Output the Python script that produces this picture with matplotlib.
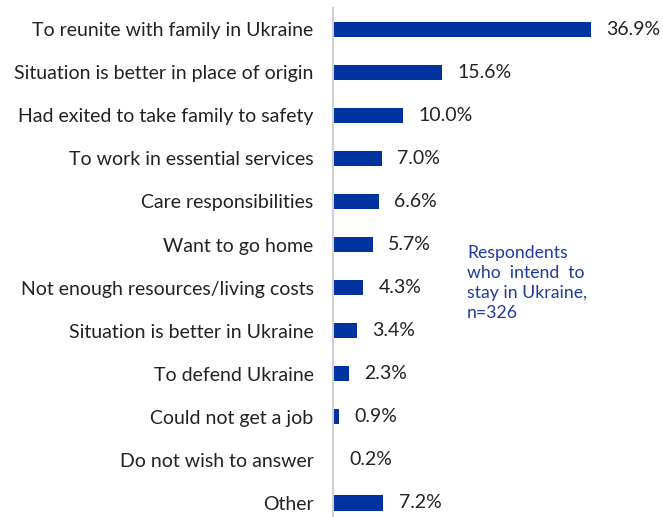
import matplotlib
matplotlib.use("Agg")
import matplotlib.pyplot as plt

categories = [
    "To reunite with family in Ukraine",
    "Situation is better in place of origin",
    "Had exited to take family to safety",
    "To work in essential services",
    "Care responsibilities",
    "Want to go home",
    "Not enough resources/living costs",
    "Situation is better in Ukraine",
    "To defend Ukraine",
    "Could not get a job",
    "Do not wish to answer",
    "Other",
]
values = [36.9, 15.6, 10.0, 7.0, 6.6, 5.7, 4.3, 3.4, 2.3, 0.9, 0.2, 7.2]
labels = ["36.9%", "15.6%", "10.0%", "7.0%", "6.6%", "5.7%", "4.3%", "3.4%", "2.3%", "0.9%", "0.2%", "7.2%"]

plt.rcParams['font.family'] = ['Lato', 'DejaVu Sans']

fig = plt.figure(figsize=(6.63, 5.17), dpi=100)
ax = fig.add_axes([333/663, 0, 330/663, 1 - 8/517])

bar_color = "#0033A0"
ypos = list(range(len(categories)))
ax.barh(ypos, values, height=0.35, color=bar_color)
ax.set_xlim(0, 330/7.0)
ax.set_ylim(11.325, -0.49)

for y, v, lab in zip(ypos, values, labels):
    ax.annotate(lab, (v, y), xytext=(11, 0), textcoords="offset points",
                va="center", ha="left", fontsize=14, color="#222222")

ax.set_yticks(ypos)
ax.set_yticklabels(categories, fontsize=14, color="#222222")
ax.tick_params(axis="y", length=0, pad=14)
ax.set_xticks([])
for s in ["top", "right", "bottom"]:
    ax.spines[s].set_visible(False)
ax.spines["left"].set_color("#d0d0d0")
ax.spines["left"].set_linewidth(1.5)

fig.text(467/663, 1 - 245/517,
         "Respondents\nwho  intend  to\nstay in Ukraine,\nn=326",
         ha="left", va="top", fontsize=12.7, color="#1F3C9C", linespacing=1.32)

fig.savefig("out.png", dpi=100)
